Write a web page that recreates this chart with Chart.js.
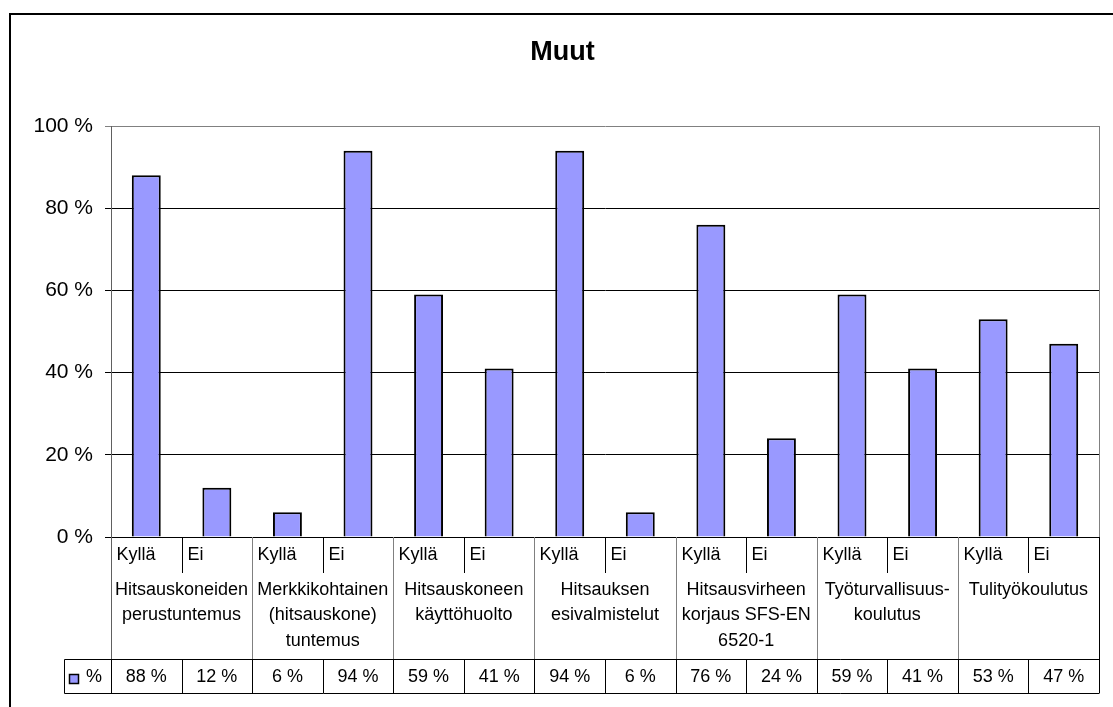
<!DOCTYPE html>
<html>
<head>
<meta charset="utf-8">
<script src="https://cdn.jsdelivr.net/npm/chart.js@4"></script>
<style>
  body { margin: 0; background: #fff; }
  #wrap { width: 1113px; height: 707px; }
</style>
</head>
<body>
<div id="wrap"><canvas id="myChart" width="1113" height="707"></canvas></div>
<script>
// data
var chartTitle = "Muut";
var answers = ["Kyllä", "Ei", "Kyllä", "Ei", "Kyllä", "Ei", "Kyllä", "Ei", "Kyllä", "Ei", "Kyllä", "Ei", "Kyllä", "Ei"];
var groups = [
  ["Hitsauskoneiden", "perustuntemus"],
  ["Merkkikohtainen", "(hitsauskone)", "tuntemus"],
  ["Hitsauskoneen", "käyttöhuolto"],
  ["Hitsauksen", "esivalmistelut"],
  ["Hitsausvirheen", "korjaus SFS-EN", "6520-1"],
  ["Työturvallisuus-", "koulutus"],
  ["Tulityökoulutus"]
];
var percents = [88, 12, 6, 94, 59, 41, 94, 6, 76, 24, 59, 41, 53, 47];
var yTicks = [0, 20, 40, 60, 80, 100];

var FONT = "'Liberation Sans', Arial, sans-serif";
var barColor = "#9999ff";

//draws title, the data table under the plot, borders
var tablePlugin = {
  id: "tablePlugin",
  afterDraw: function (chart) {
    var ctx = chart.ctx;
    var area = chart.chartArea;
    var xs = chart.scales.x;
    var n = answers.length;
    var colW = (area.right - area.left) / n;
    var top = area.bottom;
    var rowSplit = 573;
    var dataTop = 659;
    var dataBot = 693;

    ctx.save();
    ctx.lineWidth = 1;

    // title
    ctx.fillStyle = "#000";
    ctx.font = "bold 27px " + FONT;
    ctx.textAlign = "center";
    ctx.textBaseline = "middle";
    ctx.fillText(chartTitle, 562.5, 53);

    // plot right border
    ctx.strokeStyle = "#808080";
    ctx.beginPath();
    ctx.moveTo(area.right + 0.5, area.top);
    ctx.lineTo(area.right + 0.5, area.bottom);
    ctx.stroke();

    // outer chart border
    ctx.strokeStyle = "#000";
    ctx.lineWidth = 2;
    ctx.beginPath();
    ctx.moveTo(10, 720);
    ctx.lineTo(10, 14);
    ctx.lineTo(1120, 14);
    ctx.stroke();
    ctx.lineWidth = 1;

    ctx.font = "18px " + FONT;
    ctx.fillStyle = "#000";
    ctx.textBaseline = "middle";

    for (let i = 0; i < n; i++) {
      var left = Math.round(xs.getPixelForValue(i) - colW / 2) + 0.5;
      // Kyllä / Ei labels
      ctx.textAlign = "left";
      ctx.fillText(answers[i], left + 5, 555);
      // values
      ctx.textAlign = "center";
      ctx.fillText(percents[i] + " %", xs.getPixelForValue(i), 677);
      // dividers
      if (i % 2 === 1) {
        ctx.strokeStyle = "#000";
        ctx.beginPath();
        ctx.moveTo(left, top);
        ctx.lineTo(left, rowSplit);
        ctx.stroke();
      } else {
        ctx.strokeStyle = i === 0 ? "#606060" : "#808080";
        ctx.beginPath();
        ctx.moveTo(left, top);
        ctx.lineTo(left, dataTop);
        ctx.stroke();
      }
      ctx.strokeStyle = "#000";
      ctx.beginPath();
      ctx.moveTo(left, dataTop);
      ctx.lineTo(left, dataBot);
      ctx.stroke();
    }

    // group labels
    ctx.textAlign = "center";
    for (let g = 0; g < groups.length; g++) {
      var cx = (xs.getPixelForValue(g * 2) + xs.getPixelForValue(g * 2 + 1)) / 2;
      for (let l = 0; l < groups[g].length; l++) {
        ctx.fillText(groups[g][l], cx, 590 + l * 25.5);
      }
    }

    // right edge of table
    var r = Math.round(area.right) + 0.5;
    ctx.strokeStyle = "#000";
    ctx.beginPath();
    ctx.moveTo(r, top);
    ctx.lineTo(r, dataBot);
    ctx.stroke();

    // data row lines
    ctx.beginPath();
    ctx.moveTo(64.5, dataTop + 0.5);
    ctx.lineTo(r, dataTop + 0.5);
    ctx.moveTo(64.5, dataBot + 0.5);
    ctx.lineTo(r, dataBot + 0.5);
    ctx.moveTo(64.5, dataTop + 0.5);
    ctx.lineTo(64.5, dataBot + 0.5);
    ctx.stroke();

    // legend key
    ctx.fillStyle = barColor;
    ctx.fillRect(69.5, 674.5, 9, 9);
    ctx.strokeStyle = "#000";
    ctx.lineWidth = 1.5;
    ctx.strokeRect(69.5, 674.5, 9, 9);
    ctx.fillStyle = "#000";
    ctx.textAlign = "left";
    ctx.fillText("%", 86, 677);

    ctx.restore();
  },
};

var chart = new Chart(document.getElementById("myChart").getContext("2d"), {
  type: "bar",
  data: {
    labels: answers,
    datasets: [
      {
        label: "%",
        backgroundColor: barColor,
        borderColor: "#000",
        borderWidth: 2,
        data: percents,
        barPercentage: 0.41,
        categoryPercentage: 1,
      },
    ],
  },
  plugins: [tablePlugin],
  options: {
    responsive: false,
    devicePixelRatio: 1,
    animation: false,
    layout: { padding: { left: 0, right: 14, top: 126, bottom: 170 } },
    plugins: {
      legend: { display: false },
      tooltip: { enabled: false },
      title: { display: false },
    },
    scales: {
      x: { display: false },
      y: {
        min: 0,
        max: 100,
        afterBuildTicks: function (scale) {
          scale.ticks = yTicks.map(function (v) { return { value: v }; });
        },
        afterFit: function (scale) {
          scale.width = 111;
        },
        ticks: {
          color: "#000",
          padding: 12,
          font: { family: FONT, size: 21 },
          callback: function (v) { return v + " %"; },
        },
        grid: {
          color: function (c) { return c.tick && c.tick.value === 100 ? "#808080" : "#000"; },
          tickLength: 6,
          lineWidth: 1,
        },
        border: { color: "#606060" },
      },
    },
  },
});
</script>
</body>
</html>
